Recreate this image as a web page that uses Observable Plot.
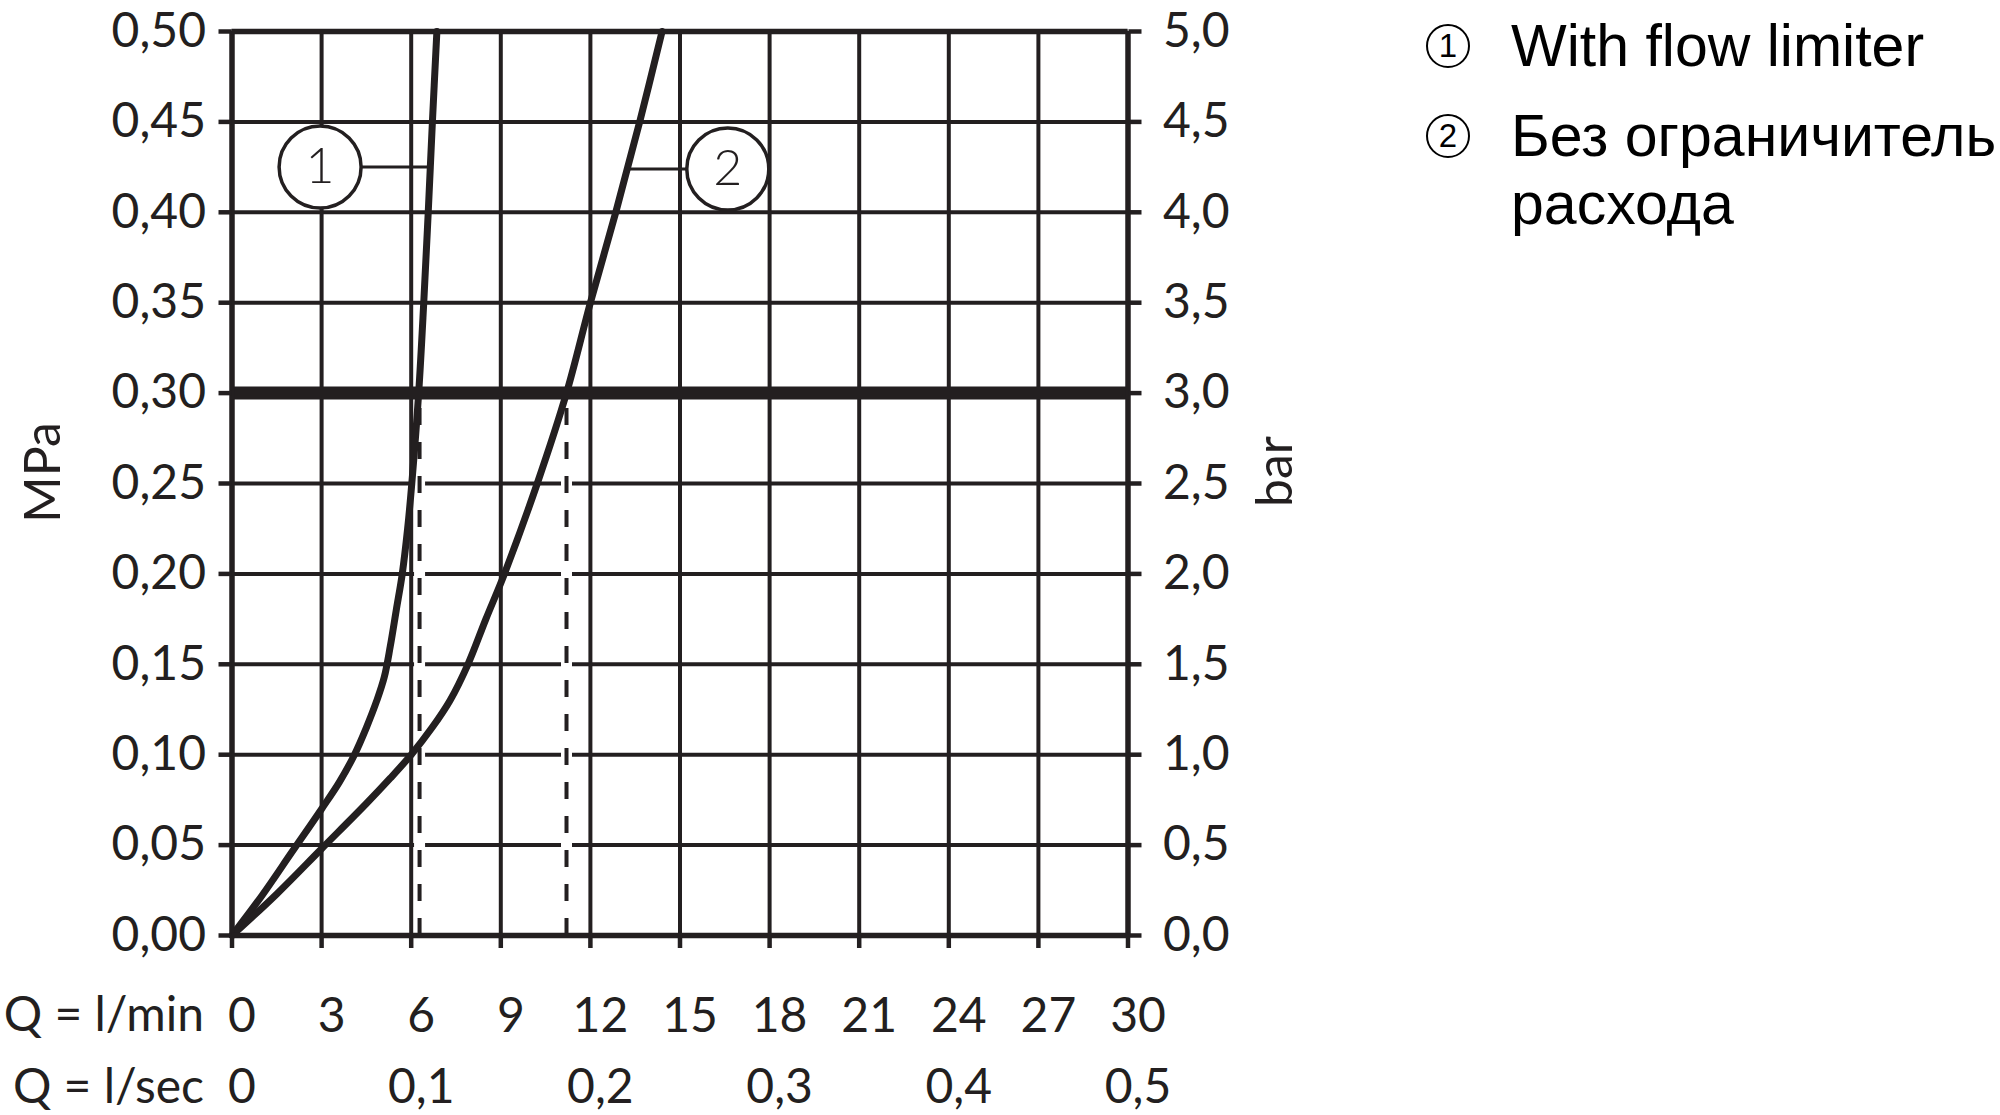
<!DOCTYPE html>
<html>
<head>
<meta charset="utf-8">
<script src="https://cdn.jsdelivr.net/npm/d3@7"></script>
<script src="https://cdn.jsdelivr.net/npm/@observablehq/plot@0.6"></script>
<style>
  body { margin: 0; background: #fff; }
  #wrap { position: relative; width: 2000px; height: 1115px; overflow: hidden; background: #fff; }
  .leg { position: absolute; font-family: "Liberation Sans", Arial, sans-serif; font-size: 59px; color: #000; white-space: nowrap; }
  .num { position: absolute; width: 40px; height: 40px; border: 2.5px solid #000; border-radius: 50%;
         font-family: "Liberation Sans", Arial, sans-serif; font-size: 33px; line-height: 40px; text-align: center; color: #000; }
</style>
</head>
<body>
<div id="wrap"></div>
<script>
// ---- data ----
const qTicks = [0, 3, 6, 9, 12, 15, 18, 21, 24, 27, 30];           // l/min
const qLabels = ["0", "3", "6", "9", "12", "15", "18", "21", "24", "27", "30"];
const secValues = [0, 0.1, 0.2, 0.3, 0.4, 0.5];                       // l/sec
const secLabels = ["0", "0,1", "0,2", "0,3", "0,4", "0,5"];
const pTicks = [0, 0.05, 0.10, 0.15, 0.20, 0.25, 0.30, 0.35, 0.40, 0.45, 0.50]; // MPa
const mpaLabels = ["0,00", "0,05", "0,10", "0,15", "0,20", "0,25", "0,30", "0,35", "0,40", "0,45", "0,50"];
const barLabels = ["0,0", "0,5", "1,0", "1,5", "2,0", "2,5", "3,0", "3,5", "4,0", "4,5", "5,0"];
const rowTitles = ["Q = l/min", "Q = l/sec"];

// curve 1: with flow limiter
const limiterQ = [0, 1, 2, 3, 3.6, 4.1, 4.5, 4.85, 5.1, 5.3, 5.5, 5.7, 5.88, 6.02, 6.25, 6.42, 6.57, 6.71, 6.86];
const limiterP = [0, 0.022, 0.046, 0.07, 0.085, 0.10, 0.115, 0.13, 0.143, 0.16, 0.18, 0.20, 0.225, 0.25, 0.30, 0.35, 0.40, 0.45, 0.50];
// curve 2: without flow limiter
const freeQ = [0, 1.5, 3, 4.5, 5.3, 6, 6.7, 7.3, 7.9, 8.5, 9.12, 10.22, 11.2, 12.0, 12.85, 13.65, 14.4];
const freeP = [0, 0.023, 0.048, 0.073, 0.087, 0.10, 0.115, 0.13, 0.15, 0.175, 0.20, 0.25, 0.30, 0.35, 0.40, 0.45, 0.50];

const ratedPressure = [0.30];
const dropQ = [6.28, 11.2];
const dropP = [0.30, 0.30];

const calloutText = ["1", "2"];
const calloutQ = [2.95, 16.6];
const calloutP = [0.425, 0.424];
const leaderFromQ = [2.95, 13.3];
const leaderToQ = [6.55, 16.6];

const axisTitles = ["MPa", "bar"];
const legendNums = ["1", "2"];
const legendTexts = ["With flow limiter", "Без ограничитель", "расхода"];

// ---- tables ----
const curve1 = limiterQ.map((q, i) => ({q, p: limiterP[i]}));
const curve2 = freeQ.map((q, i) => ({q, p: freeP[i]}));
const drops = dropQ.map((q, i) => ({q, p: dropP[i]}));
const callouts = calloutText.map((t, i) => ({t, q: calloutQ[i], p: calloutP[i]}));
const leaders = calloutText.map((t, i) => ({q1: leaderFromQ[i], q2: leaderToQ[i], p: calloutP[i]}));
const secTickQ = secValues.map(v => v * 60);

const ink = "#231f20";
const fs = 48;

const chart = Plot.plot({
  width: 2000,
  height: 1115,
  marginLeft: 231.5,
  marginRight: 872.5,
  marginTop: 31,
  marginBottom: 180,
  style: { fontFamily: "Lato, 'DejaVu Sans', sans-serif", fontWeight: 400, color: ink, background: "#fff" },
  x: { domain: [0, 30], label: null, axis: null },
  y: { domain: [0, 0.5], label: null, axis: null },
  marks: [
    Plot.gridX(qTicks, { stroke: ink, strokeOpacity: 1, strokeWidth: 4 }),
    Plot.gridY(pTicks, { stroke: ink, strokeOpacity: 1, strokeWidth: 4 }),
    // dashed drop lines with white halo
    Plot.ruleX(drops, { x: "q", y1: 0, y2: "p", stroke: "#fff", strokeWidth: 11 }),
    Plot.ruleX(drops, { x: "q", y1: 0, y2: "p", stroke: ink, strokeWidth: 4, strokeDasharray: "17,17" }),
    // leader lines
    Plot.link(leaders, { x1: "q1", x2: "q2", y1: "p", y2: "p", stroke: ink, strokeWidth: 3 }),
    // curves
    Plot.line(curve1, { x: "q", y: "p", stroke: ink, strokeWidth: 7, curve: "catmull-rom" }),
    Plot.line(curve2, { x: "q", y: "p", stroke: ink, strokeWidth: 7, curve: "catmull-rom" }),
    // rated pressure line
    Plot.ruleY(ratedPressure, { stroke: ink, strokeWidth: 13 }),
    // frame
    Plot.ruleX([0, 30], { stroke: ink, strokeWidth: 5.5 }),
    Plot.ruleY([0, 0.5], { stroke: ink, strokeWidth: 5.5 }),
    // callouts
    Plot.dot(callouts, { x: "q", y: "p", r: 41, fill: "#fff", stroke: ink, strokeWidth: 3.5 }),
    Plot.text(callouts, { x: "q", y: "p", text: "t", fontSize: 50, fontWeight: 300, fill: ink }),
    // left axis (MPa)
    Plot.axisY(pTicks, { anchor: "left", tickSize: 13, tickPadding: 13, strokeWidth: 4.5, fontSize: fs,
      tickFormat: d => mpaLabels[pTicks.indexOf(d)], label: null }),
    // right axis (bar)
    Plot.axisY(pTicks, { anchor: "right", tickSize: 13, tickPadding: 22, strokeWidth: 4.5, fontSize: fs,
      tickFormat: d => barLabels[pTicks.indexOf(d)], label: null }),
    // bottom tick stubs
    Plot.axisX(qTicks, { anchor: "bottom", tickSize: 13, strokeWidth: 4.5, fill: "none", label: null }),
    // l/min labels
    Plot.axisX(qTicks, { anchor: "bottom", tickSize: 0, tickPadding: 62, dx: 10, fontSize: fs,
      tickFormat: d => qLabels[qTicks.indexOf(d)], label: null }),
    // l/sec labels
    Plot.axisX(secTickQ, { anchor: "bottom", tickSize: 0, tickPadding: 133, dx: 10, fontSize: fs,
      tickFormat: d => secLabels[secTickQ.indexOf(d)], label: null }),
    // row titles
    Plot.text([rowTitles[0]], { frameAnchor: "bottom-left", text: d => d, textAnchor: "end", lineAnchor: "middle",
      dx: -28, dy: 80, fontSize: fs, fill: ink }),
    Plot.text([rowTitles[1]], { frameAnchor: "bottom-left", text: d => d, textAnchor: "end", lineAnchor: "middle",
      dx: -28, dy: 152, fontSize: fs, fill: ink }),
    // axis titles
    Plot.text([axisTitles[0]], { frameAnchor: "left", text: d => d, rotate: -90, textAnchor: "middle", lineAnchor: "middle",
      dx: -188, dy: -11, fontSize: 50, fill: ink }),
    Plot.text([axisTitles[1]], { frameAnchor: "right", text: d => d, rotate: -90, textAnchor: "middle", lineAnchor: "middle",
      dx: 148, dy: -12, fontSize: 50, fill: ink })
  ]
});

const wrap = document.getElementById("wrap");
wrap.appendChild(chart);

// legend (HTML, right side)
function addNum(txt, left, top) {
  const s = document.createElement("div");
  s.className = "num"; s.textContent = txt;
  s.style.left = left + "px"; s.style.top = top + "px";
  wrap.appendChild(s);
}
function addText(html, left, top, lh) {
  const d = document.createElement("div");
  d.className = "leg"; d.innerHTML = html;
  d.style.left = left + "px"; d.style.top = top + "px"; d.style.lineHeight = lh + "px";
  wrap.appendChild(d);
}
addNum(legendNums[0], 1426, 24);
addText(legendTexts[0], 1511, 17, 59);
addNum(legendNums[1], 1426, 114);
addText(legendTexts[1] + "<br>" + legendTexts[2], 1511, 102, 68);
</script>
</body>
</html>
